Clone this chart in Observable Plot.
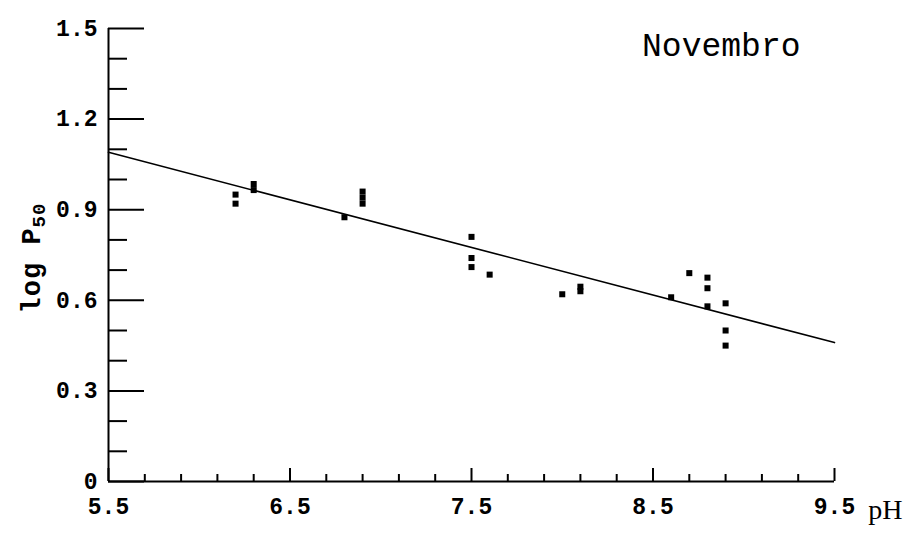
<!DOCTYPE html>
<html>
<head>
<meta charset="utf-8">
<script src="https://cdn.jsdelivr.net/npm/d3@7"></script>
<script src="https://cdn.jsdelivr.net/npm/@observablehq/plot@0.6"></script>
<style>
  html, body { margin: 0; padding: 0; background: #fff; }
  #chart svg { display: block; }
</style>
</head>
<body>
<div id="chart"></div>
<script>
// Measured pH and log P50 for November samples
const pH    = [6.2, 6.2, 6.3, 6.3, 6.8, 6.9, 6.9, 6.9, 7.5, 7.5, 7.5, 7.6, 8.0, 8.1, 8.1, 8.6, 8.7, 8.8, 8.8, 8.8, 8.9, 8.9, 8.9];
const logP50 = [0.95, 0.92, 0.985, 0.965, 0.875, 0.96, 0.94, 0.92, 0.81, 0.74, 0.71, 0.685, 0.62, 0.645, 0.63, 0.61, 0.69, 0.675, 0.64, 0.58, 0.59, 0.50, 0.45];

// Fitted regression line end points
const fitX = [5.5, 9.5];
const fitY = [1.09, 0.46];

// Axis ticks and labels
const xMajor = [5.5, 6.5, 7.5, 8.5, 9.5];
const xMinor = [5.7, 5.9, 6.1, 6.3, 6.7, 6.9, 7.1, 7.3, 7.7, 7.9, 8.1, 8.3, 8.7, 8.9, 9.1, 9.3];
const yMajor = [0, 0.3, 0.6, 0.9, 1.2, 1.5];
const yMinor = [0.1, 0.2, 0.4, 0.5, 0.7, 0.8, 1.0, 1.1, 1.3, 1.4];

const title = "Novembro";
const xLabel = "pH";

const points = pH.map((x, i) => ({pH: x, logP50: logP50[i]}));
const fit = fitX.map((x, i) => ({pH: x, logP50: fitY[i]}));

const mono = "'Liberation Mono', 'DejaVu Sans Mono', monospace";
const fmt = d => d === 0 ? "0" : d.toFixed(1);

const chart = Plot.plot({
  width: 914,
  height: 534,
  marginLeft: 108,
  marginRight: 80,
  marginTop: 28,
  marginBottom: 53,
  style: {fontFamily: mono, color: "#000", background: "#fff"},
  x: {domain: [5.5, 9.5], label: null},
  y: {domain: [0, 1.5], label: null},
  marks: [
    // axis lines
    Plot.ruleX([5.5], {stroke: "#000", strokeWidth: 2}),
    Plot.ruleY([0], {stroke: "#000", strokeWidth: 2}),
    // inward ticks
    Plot.axisY({ticks: yMajor, tickSize: -36, text: null, label: null, strokeWidth: 2}),
    Plot.axisY({ticks: yMinor, tickSize: -19, text: null, label: null, strokeWidth: 2}),
    Plot.axisX({ticks: xMajor, tickSize: -13, text: null, label: null, strokeWidth: 2}),
    Plot.axisX({ticks: xMinor, tickSize: -7, text: null, label: null, strokeWidth: 2}),
    // tick labels
    Plot.axisY({ticks: yMajor, tickSize: 0, tickPadding: 11, tickFormat: fmt, fontSize: 23, fontWeight: "bold", label: null}),
    Plot.axisX({ticks: xMajor, tickSize: 0, tickPadding: 16, tickFormat: fmt, fontSize: 23, fontWeight: "bold", label: null}),
    // regression line
    Plot.line(fit, {x: "pH", y: "logP50", stroke: "#000", strokeWidth: 1.6}),
    // observations
    Plot.dot(points, {x: "pH", y: "logP50", symbol: "square", r: 3.4, fill: "#000", stroke: null}),
    // title and x label
    Plot.text([title], {frameAnchor: "top-right", lineAnchor: "middle", dx: -34, dy: 17, fontSize: 33, fontFamily: mono, fill: "#000", textAnchor: "end"}),
    Plot.text([xLabel], {frameAnchor: "bottom-right", lineAnchor: "middle", dx: 68, dy: 29, fontSize: 28, fontFamily: "'Liberation Serif', serif", fill: "#000"})
  ]
});

// y-axis label with subscript
const svg = d3.select(chart);
const ylab = svg.append("text")
  .attr("transform", "translate(40,258) rotate(-90)")
  .attr("text-anchor", "middle")
  .attr("font-family", mono)
  .attr("font-weight", "bold")
  .attr("font-size", 27)
  .attr("letter-spacing", 1)
  .attr("fill", "#000");
ylab.append("tspan").text("log P");
ylab.append("tspan").attr("font-size", 19).attr("dy", 5).text("50");

document.getElementById("chart").append(chart);
</script>
</body>
</html>
